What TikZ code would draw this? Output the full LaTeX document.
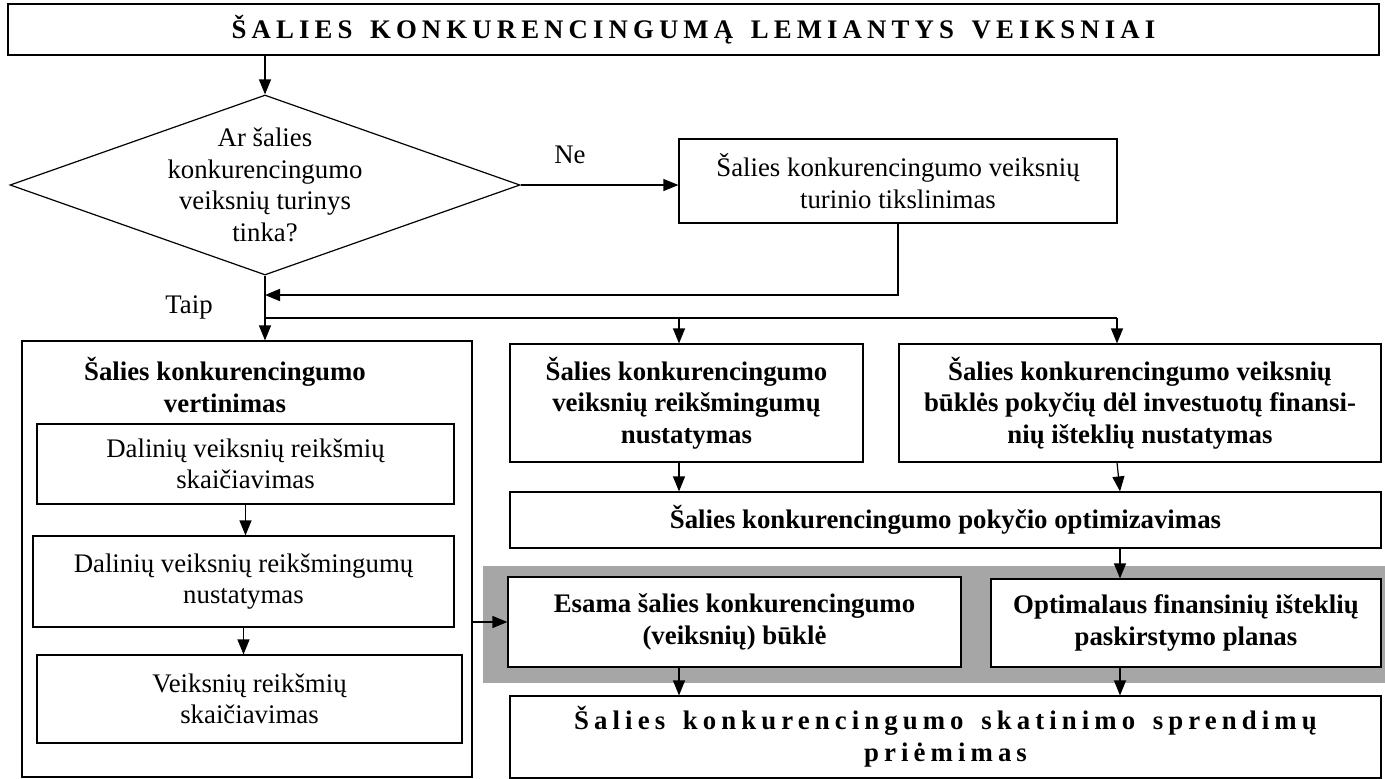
\documentclass[tikz,border=0pt]{standalone}
\usepackage{fontspec}
\setmainfont{Liberation Serif}
\newfontfamily\spacedfont[LetterSpace=19,WordSpace=1.5]{Liberation Serif}
\usetikzlibrary{shapes.geometric,arrows.meta}
\newcommand\bodyfont{\fontsize{13.4}{15.75}\selectfont}
\newcommand\widefont{\spacedfont\bfseries\fontsize{13.4}{15.9}\selectfont}
\definecolor{juosta}{gray}{0.65}
\tikzset{
  box/.style={draw, line width=0.6pt, inner sep=0pt, align=center, fill=white, font=\bodyfont},
  boldbox/.style={box, font=\bodyfont\bfseries},
  arr/.style={-{Triangle[length=7.5pt,width=6pt]}, line width=0.6pt},
}

\begin{document}
\begin{tikzpicture}[x=0.5pt,y=-0.5pt]
\useasboundingbox (0,0) rectangle (1385,778);
% pilka juosta
\fill[juosta] (483,566) rectangle (1385,683);
% virsus
\node[box, font=\widefont, minimum width=685.5pt, minimum height=25.5pt] (antr) at (693.5,29.5) {ŠALIES KONKURENCINGUMĄ LEMIANTYS VEIKSNIAI};
\node[draw, diamond, line width=0.6pt, inner sep=0pt, minimum width=255pt, minimum height=90pt] (klaus) at (265,185) {};
\node[align=center, font=\bodyfont] at (265,185) {Ar šalies\\konkurencingumo\\veiksnių turinys\\tinka?};
\node[box, minimum width=219pt, minimum height=42pt] (tiks) at (898,181) {Šalies konkurencingumo veiksnių\\turinio tikslinimas};
\node[font=\bodyfont] (ne) at (570,155) {Ne};
\node[font=\bodyfont] (taip) at (189,307) {Taip};
% kairys blokas
\node[box, minimum width=225pt, minimum height=218pt] (vert) at (247,559) {};
\node[align=center, font=\bodyfont\bfseries] (vertpav) at (225,385) {Šalies konkurencingumo\\vertinimas};
\node[box, minimum width=208.5pt, minimum height=40pt] (dal1) at (245.5,464) {Dalinių veiksnių reikšmių\\skaičiavimas};
\node[box, minimum width=210.5pt, minimum height=45.5pt] (dal2) at (243.5,581.5) {Dalinių veiksnių reikšmingumų\\nustatymas};
\node[box, minimum width=212.5pt, minimum height=44pt] (veik) at (249.5,699) {Veiksnių reikšmių\\skaičiavimas};
% desinys blokas
\node[boldbox, minimum width=176.5pt, minimum height=59pt] (reiksm) at (686.5,403) {Šalies konkurencingumo\\veiksnių reikšmingumų\\nustatymas};
\node[boldbox, minimum width=241pt, minimum height=59pt] (bukle) at (1140,403) {Šalies konkurencingumo veiksnių\\būklės pokyčių dėl investuotų finansi-\\nių išteklių nustatymas};
\node[boldbox, minimum width=435.5pt, minimum height=28pt] (optim) at (945.5,520) {Šalies konkurencingumo pokyčio optimizavimas};
\node[boldbox, minimum width=226.5pt, minimum height=45pt] (esama) at (734.5,622) {Esama šalies konkurencingumo\\(veiksnių) būklė};
\node[boldbox, minimum width=195pt, minimum height=44pt] (planas) at (1186,623) {Optimalaus finansinių išteklių\\paskirstymo planas};
\node[box, font=\widefont, minimum width=435.5pt, minimum height=41pt] (spr) at (945.5,737) {Šalies konkurencingumo skatinimo sprendimų\\priėmimas};
% rodykles
\coordinate (grizt) at (265,295);
\coordinate (sk1) at (679,318);
\coordinate (sk2) at (1117,318);
\coordinate (sk3) at (1120,548);
\draw[arr] (klaus.north |- antr.south) -- (klaus.north);
\draw[arr] (klaus.east) -- (klaus.east -| tiks.west);
\draw[arr, line width=1pt] (tiks.south) |- (grizt);
\draw[arr] (klaus.south) -- (klaus.south |- vert.north);
\draw[line width=1pt] (klaus.south |- sk1) -- (sk2);
\draw[arr] (sk1) -- (sk1 |- reiksm.north);
\draw[arr] (sk2) -- (sk2 |- bukle.north);
\draw[arr] (sk1 |- reiksm.south) -- (sk1 |- optim.north);
\draw[arr] (sk2 |- bukle.south) -- (sk3 |- optim.north);
\draw[arr] (sk3) -- (sk3 |- planas.north);
\draw[arr] (sk1 |- esama.south) -- (sk1 |- spr.north);
\draw[arr] (sk3 |- planas.south) -- (sk3 |- spr.north);
\draw[arr] (dal1.south) -- (dal1.south |- dal2.north);
\draw[arr] (dal2.south) -- (dal2.south |- veik.north);
\draw[arr] (vert.east |- esama.west) -- (esama.west);
\end{tikzpicture}
\end{document}
